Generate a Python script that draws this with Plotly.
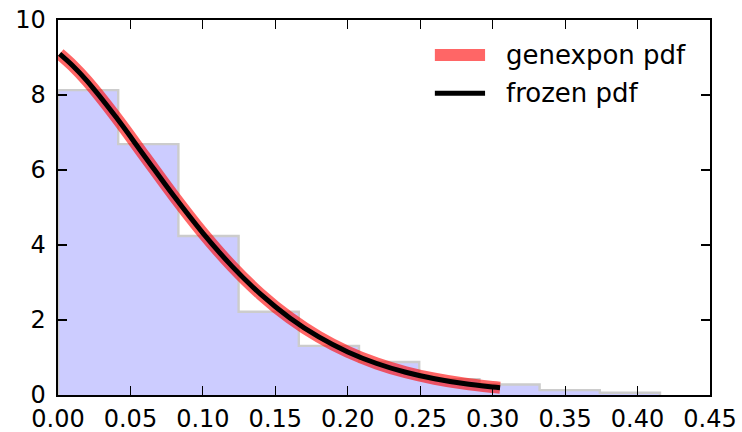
import plotly.graph_objects as go

# Histogram (density) of random samples
bin_edges = [0.0, 0.04155, 0.0831, 0.12465, 0.1662, 0.20775, 0.2493, 0.29085, 0.3324, 0.37395, 0.4155]
bin_heights = [8.13, 6.69, 4.24, 2.22, 1.31, 0.88, 0.42, 0.28, 0.13, 0.06]

# genexpon pdf
curve_x = [0.0011, 0.01, 0.02, 0.04, 0.06, 0.08, 0.10, 0.12, 0.14, 0.16, 0.18,
           0.20, 0.22, 0.24, 0.26, 0.28, 0.30, 0.3051]
curve_y = [9.097, 8.787, 8.376, 7.411, 6.356, 5.304, 4.317, 3.437, 2.682, 2.055, 1.549,
           1.149, 0.840, 0.607, 0.433, 0.305, 0.213, 0.194]

x_ticks = [0.00, 0.05, 0.10, 0.15, 0.20, 0.25, 0.30, 0.35, 0.40, 0.45]
y_ticks = [0, 2, 4, 6, 8, 10]

legend_names = ["genexpon pdf", "frozen pdf"]
legend_colors = ["rgba(255,0,0,0.6)", "black"]
legend_widths = [12, 5]

hist_x = [bin_edges[0]] + bin_edges
hist_y = [0] + bin_heights + [0]

fig = go.Figure()
fig.add_trace(go.Scatter(
    x=hist_x, y=hist_y, mode="lines", line_shape="hv",
    fill="tozeroy", fillcolor="rgba(0,0,255,0.2)",
    line=dict(color="#cccccc", width=2.4),
    showlegend=False, hoverinfo="skip"))
for name, col, w in zip(legend_names, legend_colors, legend_widths):
    fig.add_trace(go.Scatter(
        x=curve_x, y=curve_y, mode="lines", line_shape="spline",
        line=dict(color=col, width=w), name=name, showlegend=False))

# Legend (frameless, top right), drawn as swatches + real text
leg_y = [0.907, 0.805]
for name, col, w, yy in zip(legend_names, legend_colors, legend_widths, leg_y):
    fig.add_shape(type="line", xref="paper", yref="paper",
                  x0=0.578, x1=0.655, y0=yy, y1=yy,
                  line=dict(color=col, width=w))
    fig.add_annotation(xref="paper", yref="paper", x=0.684, y=yy,
                       xanchor="left", yanchor="middle", showarrow=False,
                       text=name,
                       font=dict(family="DejaVu Sans", size=26, color="black"))

axis_common = dict(
    showgrid=False, zeroline=False, showline=True, linecolor="black", linewidth=2.4,
    mirror="ticks", ticks="inside", ticklen=9, tickwidth=1.2, tickcolor="black",
    automargin=False,
    tickfont=dict(family="DejaVu Sans", size=24, color="black"))

fig.update_xaxes(range=[0, 0.45], tickvals=x_ticks,
                 ticktext=[f"{v:.2f}" for v in x_ticks], ticklabelstandoff=1,
                 **axis_common)
fig.update_yaxes(range=[0, 10], tickvals=y_ticks,
                 ticktext=[str(v) for v in y_ticks], ticklabelstandoff=5,
                 **axis_common)

fig.update_layout(
    width=742, height=432,
    margin=dict(l=58, r=32, t=20, b=37),
    paper_bgcolor="white", plot_bgcolor="white",
    font=dict(family="DejaVu Sans", color="black"),
    showlegend=False,
)

fig.write_html("out.html",
               config={"displayModeBar": False, "staticPlot": True},
               post_script="document.body.style.margin='0';document.body.style.overflow='hidden';")
